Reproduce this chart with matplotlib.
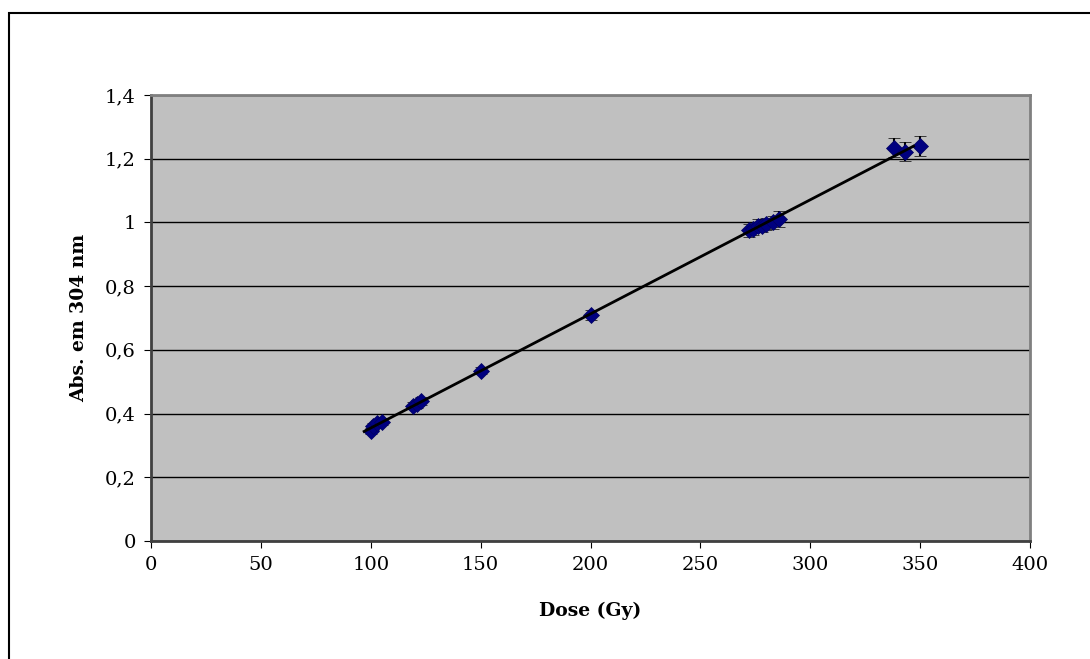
import numpy as np
import matplotlib
matplotlib.use("Agg")
import matplotlib.pyplot as plt
from matplotlib.patches import Rectangle
from matplotlib.ticker import FuncFormatter

# dose (Gy) vs absorbance at 304 nm
dose = [100, 101, 103, 105, 119, 121, 123, 150, 200,
        272, 274, 276, 278, 280, 283, 286, 338, 343, 350]
absorb = [0.345, 0.36, 0.37, 0.375, 0.425, 0.43, 0.44, 0.535, 0.71,
          0.975, 0.98, 0.99, 0.99, 0.995, 1.0, 1.01, 1.235, 1.222, 1.24]
err = [0.01, 0.01, 0.01, 0.01, 0.012, 0.012, 0.012, 0.012, 0.015,
       0.02, 0.02, 0.02, 0.02, 0.02, 0.02, 0.025, 0.03, 0.03, 0.032]

plt.rcParams['font.family'] = ['DejaVu Serif']

fig = plt.figure(figsize=(10.9, 6.59), dpi=100)
fig.patches.append(Rectangle((9 / 1090, -0.1), 1.1, 1.1 - 13 / 659, transform=fig.transFigure,
                             fill=False, edgecolor='black', linewidth=1.5))
ax = fig.add_axes([151 / 1090, 118 / 659, 879 / 1090, 446 / 659])
ax.set_facecolor('#c0c0c0')

# linear fit line
x = np.array(dose)
y = np.array(absorb)
k, b = np.polyfit(x, y, 1)
xl = np.array([x.min() - 3, x.max() - 3])
ax.plot(xl, k * xl + b, color='black', linewidth=2, zorder=4)

ax.errorbar(dose, absorb, yerr=err, fmt='D', color='#000080', markersize=8.5,
            markeredgecolor='#000060', markeredgewidth=0.5,
            ecolor='black', elinewidth=1.5, capsize=4.5, capthick=1.5, zorder=3)

ax.set_xlim(0, 400)
ax.set_ylim(0, 1.4)
ax.set_xticks(np.arange(0, 401, 50))
ax.set_yticks(np.arange(0, 1.41, 0.2))
ax.yaxis.set_major_formatter(FuncFormatter(lambda v, p: ('%g' % round(v, 1)).replace('.', ',')))
ax.grid(axis='y', color='black', linewidth=1)
ax.set_axisbelow(True)
ax.tick_params(direction='out', length=5, labelsize=14, pad=6)

for s in ax.spines.values():
    s.set_color('#808080')
    s.set_linewidth(2)
ax.spines['left'].set_color('#404040')
ax.spines['bottom'].set_color('#404040')

ax.set_xlabel('Dose (Gy)', fontsize=13.5, fontweight='bold', labelpad=20)
ax.set_ylabel('Abs. em 304 nm', fontsize=13.5, fontweight='bold', labelpad=12)

fig.savefig('out.png', dpi=100)
